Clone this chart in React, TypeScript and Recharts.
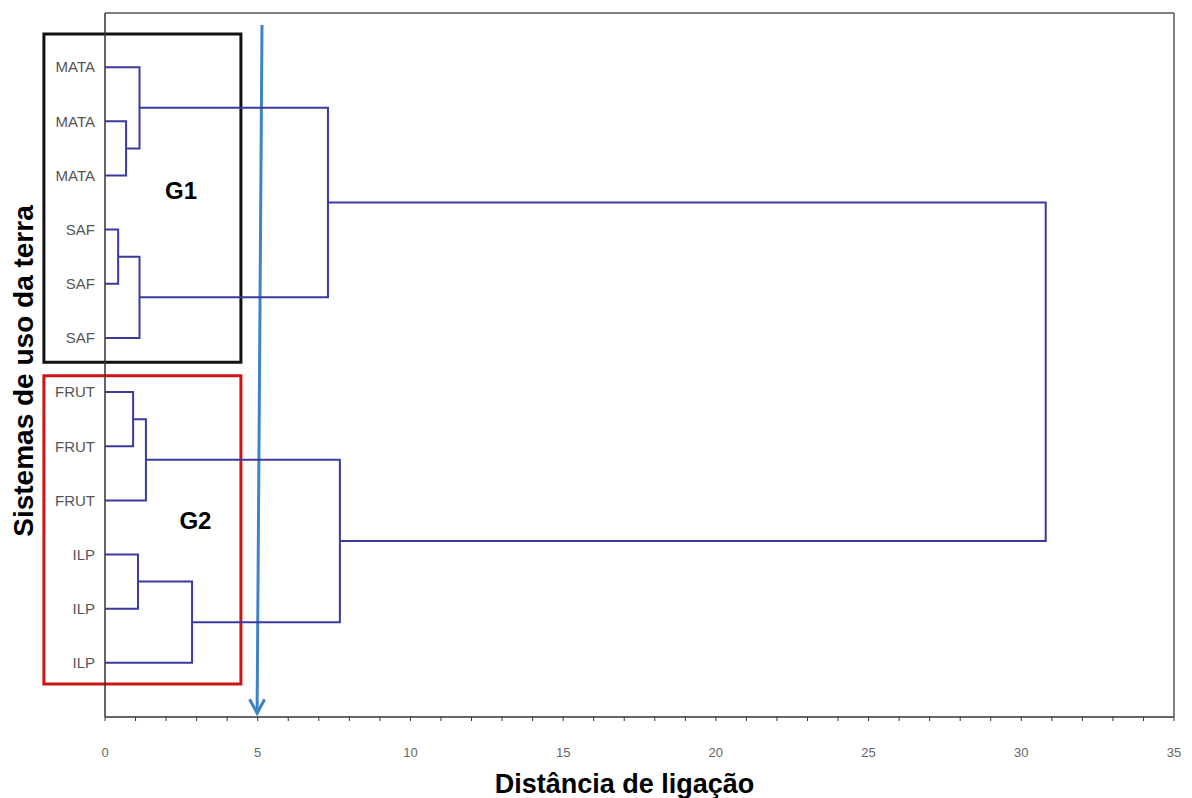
import React from 'react';
import {
  ComposedChart,
  Scatter,
  XAxis,
  YAxis,
  ReferenceArea,
  ReferenceLine,
  ReferenceDot,
} from 'recharts';

// leaves from top to bottom
const leafLabels = ['MATA', 'MATA', 'MATA', 'SAF', 'SAF', 'SAF', 'FRUT', 'FRUT', 'FRUT', 'ILP', 'ILP', 'ILP'];

// merges (linkage): indices 0..11 are leaves, merge k creates node 12 + k
const mergePairs: [number, number][] = [
  [1, 2],
  [0, 12],
  [3, 4],
  [14, 5],
  [13, 15],
  [6, 7],
  [17, 8],
  [9, 10],
  [19, 11],
  [18, 20],
  [16, 21],
];
const mergeDistances = [0.69, 1.13, 0.43, 1.13, 7.3, 0.92, 1.34, 1.08, 2.85, 7.69, 30.8];

const xLabelTicks = [0, 5, 10, 15, 20, 25, 30, 35];
const xMinorTicks = Array.from({ length: 36 }, (_, i) => i);
const leafTicks = leafLabels.map((_, i) => i + 1);

// annotation boxes / cut line (data units)
const groupBoxes = [
  { name: 'G1', x1: -2.0, x2: 4.45, y1: 0.39, y2: 6.45, color: '#111111', lx: 2.49, ly: 3.28 },
  { name: 'G2', x1: -2.0, x2: 4.45, y1: 6.7, y2: 12.39, color: '#cc1414', lx: 2.96, ly: 9.38 },
];
const cutLine = [
  { x: 5.14, y: 0.22 },
  { x: 4.98, y: 12.93 },
];

const LINK_COLOR = '#3b3b9f';
const FRAME_COLOR = '#777';

function buildLinks() {
  const pos: number[] = leafLabels.map((_, i) => i + 1);
  const height: number[] = leafLabels.map(() => 0);
  const links: { x: number; y: number }[][] = [];
  mergePairs.forEach(([a, b], k) => {
    const d = mergeDistances[k];
    links.push([
      { x: height[a], y: pos[a] },
      { x: d, y: pos[a] },
      { x: d, y: pos[b] },
      { x: height[b], y: pos[b] },
    ]);
    pos.push((pos[a] + pos[b]) / 2);
    height.push(d);
  });
  return links;
}

const links = buildLinks();

const noShape = () => <g />;
const noTick = () => <g />;

const renderArrow = (props: any) => {
  const { x1, y1, x2, y2 } = props;
  return (
    <g>
      <line x1={x1} y1={y1} x2={x2} y2={y2} stroke="#3d84c6" strokeWidth={3} />
      <polyline
        points={`${x2 - 7.5},${y2 - 14} ${x2},${y2} ${x2 + 7.5},${y2 - 14}`}
        fill="none"
        stroke="#3d84c6"
        strokeWidth={3}
      />
    </g>
  );
};

const renderXTitle = (props: any) => {
  const { viewBox } = props;
  return (
    <text
      x={viewBox.x + viewBox.width / 2 - 15}
      y={viewBox.y + viewBox.height - 5}
      textAnchor="middle"
      fontSize={27}
      fontWeight="bold"
      fill="#000"
    >
      Distância de ligação
    </text>
  );
};

const renderYTitle = (props: any) => {
  const { viewBox } = props;
  const x = viewBox.x + 33;
  const y = viewBox.y + viewBox.height / 2 + 6;
  return (
    <text
      x={x}
      y={y}
      transform={`rotate(-90, ${x}, ${y})`}
      textAnchor="middle"
      fontSize={28}
      fontWeight="bold"
      fill="#000"
    >
      Sistemas de uso da terra
    </text>
  );
};

export default function App() {
  return (
    <div
      style={{
        position: 'absolute',
        left: 0,
        top: 0,
        width: 1192,
        height: 798,
        background: '#fff',
        fontFamily: '"Liberation Sans", Arial, sans-serif',
      }}
    >
      <ComposedChart width={1192} height={798} margin={{ top: 12, right: 17, bottom: 0, left: 0 }}>
        <XAxis
          type="number"
          dataKey="x"
          domain={[0, 35]}
          ticks={xMinorTicks}
          interval={0}
          tickFormatter={(v: number) => (xLabelTicks.includes(v) ? String(v) : '')}
          height={81}
          tickSize={4}
          tickMargin={27}
          tick={{ fontSize: 13, fill: '#666' }}
          axisLine={{ stroke: '#333', strokeWidth: 1.5 }}
          tickLine={{ stroke: '#333' }}
          label={{ content: renderXTitle }}
        />
        <XAxis
          xAxisId="top"
          orientation="top"
          type="number"
          dataKey="x"
          domain={[0, 35]}
          ticks={xMinorTicks}
          interval={0}
          height={1}
          tick={noTick}
          tickSize={-4}
          axisLine={{ stroke: FRAME_COLOR, strokeWidth: 1.5 }}
          tickLine={{ stroke: '#333' }}
        />
        <YAxis
          type="number"
          dataKey="y"
          domain={[0, 13]}
          reversed
          ticks={leafTicks}
          interval={0}
          tickFormatter={(v: number) => leafLabels[v - 1] ?? ''}
          width={105}
          tickLine={false}
          tickMargin={4}
          tick={{ fontSize: 15, fill: '#555' }}
          axisLine={{ stroke: '#333', strokeWidth: 1.5 }}
          label={{ content: renderYTitle }}
        />
        <YAxis
          yAxisId="right"
          orientation="right"
          type="number"
          dataKey="y"
          domain={[0, 13]}
          reversed
          ticks={leafTicks}
          interval={0}
          width={1}
          tick={noTick}
          tickSize={-4}
          axisLine={{ stroke: FRAME_COLOR, strokeWidth: 1.5 }}
          tickLine={{ stroke: '#333' }}
        />
        <ReferenceLine y={0} stroke={FRAME_COLOR} strokeWidth={1.5} />
        <ReferenceLine x={35} stroke={FRAME_COLOR} strokeWidth={1.5} />
        {links.map((pts, i) => (
          <Scatter
            key={`link-${i}`}
            data={pts}
            line={{ stroke: LINK_COLOR, strokeWidth: 2 }}
            lineType="joint"
            shape={noShape}
            legendType="none"
            isAnimationActive={false}
          />
        ))}
        {groupBoxes.map((b) => (
          <ReferenceArea
            key={b.name}
            x1={b.x1}
            x2={b.x2}
            y1={b.y1}
            y2={b.y2}
            ifOverflow="visible"
            fill="none"
            fillOpacity={0}
            stroke={b.color}
            strokeWidth={3}
          />
        ))}
        {groupBoxes.map((b) => (
          <ReferenceDot
            key={`lbl-${b.name}`}
            x={b.lx}
            y={b.ly}
            r={0}
            fill="none"
            stroke="none"
            label={{ value: b.name, position: 'center', fontSize: 24, fontWeight: 'bold', fill: '#000' }}
          />
        ))}
        <ReferenceLine segment={cutLine} shape={renderArrow} />
      </ComposedChart>
    </div>
  );
}
